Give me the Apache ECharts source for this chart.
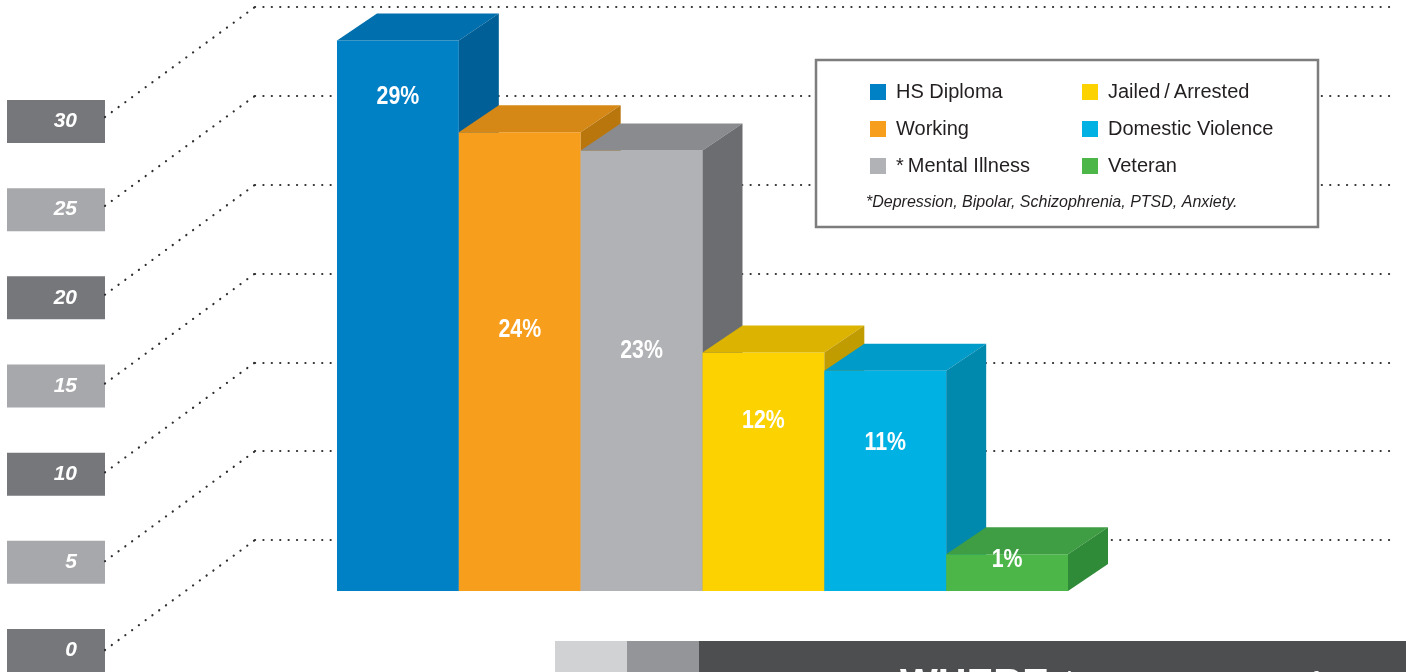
<!DOCTYPE html>
<html><head><meta charset="utf-8">
<script src="https://cdn.jsdelivr.net/npm/echarts@6/dist/echarts.min.js"></script>
<style>html,body{margin:0;padding:0;background:#fff}#c{width:1406px;height:672px}</style>
</head><body><div id="c"></div>
<script>
// ---- data ----
const categories = ['HS Diploma', 'Working', '*\u2009Mental Illness', 'Jailed\u2009/\u2009Arrested', 'Domestic Violence', 'Veteran'];
const values = [29, 24, 23, 12, 11, 1];
const valueLabels = ['29%', '24%', '23%', '12%', '11%', '1%'];
const tickValues = [0, 5, 10, 15, 20, 25, 30];
const footnote = '*Depression, Bipolar, Schizophrenia, PTSD, Anxiety.';
const bannerBold = 'WHERE';
const bannerText = 'do our guests come from?';

// ---- styles ----
const FRONT = ['#0081c6', '#f89e1d', '#b1b2b5', '#fcd200', '#00b2e3', '#4cb748'];
const TOPC  = ['#006fad', '#d68816', '#8a8b8f', '#dbb300', '#009bc9', '#3f9e43'];
const SIDE  = ['#005f96', '#b8760c', '#6c6d71', '#c19c00', '#0088ad', '#2f8b38'];
const LABEL_DROP = [56, 198, 200, 68, 72, 6];
const DX = 40, DY = -27;
const DOT = { color: '#2e2e2e', width: 2.2, type: [0.1, 8.3], cap: 'round' };
const SANS = "'Liberation Sans', Arial, sans-serif";

function barRenderer(i) {
  return function (params, api) {
    const cs = params.coordSys;
    const p = api.coord([api.value(0), api.value(1)]);
    const w = api.size([1, 0])[0];
    const x0 = p[0] - w / 2, x1 = p[0] + w / 2, top = p[1], bot = cs.y + cs.height;
    return {
      type: 'group',
      children: [
        { type: 'rect', shape: { x: x0, y: top, width: w, height: bot - top }, style: { fill: FRONT[i] } },
        { type: 'polygon', shape: { points: [[x0, top], [x0 + DX, top + DY], [x1 + DX, top + DY], [x1, top]] }, style: { fill: TOPC[i] } },
        { type: 'polygon', shape: { points: [[x1, top], [x1 + DX, top + DY], [x1 + DX, bot + DY], [x1, bot]] }, style: { fill: SIDE[i] } },
        { type: 'text', x: p[0], y: top + LABEL_DROP[i], scaleX: 0.82,
          style: { text: valueLabels[i], fill: '#fff', font: 'bold 26px ' + SANS, align: 'center', verticalAlign: 'middle' } }
      ]
    };
  };
}

const barSeries = categories.map((name, i) => ({
  type: 'custom', name: name, xAxisIndex: 2, yAxisIndex: 2, clip: false,
  itemStyle: { color: FRONT[i] },
  renderItem: barRenderer(i),
  data: [[i, values[i]]]
}));

const connectorSeries = {
  type: 'custom', xAxisIndex: 1, yAxisIndex: 1, clip: false, silent: true,
  renderItem: function (params, api) {
    const p = api.coord([0, api.value(1)]);
    return { type: 'polyline', shape: { points: [[105, p[1] + 110], [p[0], p[1]]] },
      style: { stroke: DOT.color, lineWidth: DOT.width, lineDash: DOT.type, lineCap: 'round', fill: null } };
  },
  data: tickValues.map(v => [0, v])
};

const labelRich = (bg) => ({ backgroundColor: bg, width: 70, height: 43, lineHeight: 43, padding: [0, 28, 0, 0], align: 'right',
  color: '#fff', fontSize: 21, fontWeight: 'bold', fontStyle: 'italic', fontFamily: SANS });

const legendBase = { orient: 'vertical', top: 82, padding: 0, itemWidth: 16, itemHeight: 16, itemGap: 17, icon: 'rect',
  selectedMode: false, z: 6, textStyle: { fontSize: 20, color: '#231f20', fontFamily: SANS, padding: [0, 0, 0, 5] } };

const option = {
  animation: false,
  backgroundColor: '#fff',
  grid: [
    { left: 105, width: 1, top: 121.5, bottom: 21.5 },
    { left: 255, right: 11, top: 7, bottom: 132 },
    { left: 337, right: 338, top: 22.1, bottom: 81 }
  ],
  xAxis: [
    { gridIndex: 0, type: 'value', show: false },
    { gridIndex: 1, type: 'value', min: 0, max: 1, show: false },
    { gridIndex: 2, type: 'category', data: categories, show: false }
  ],
  yAxis: [
    { gridIndex: 0, type: 'value', min: 0, max: 30, interval: 5,
      axisLine: { show: false }, axisTick: { show: false }, splitLine: { show: false },
      axisLabel: { margin: 0, formatter: v => '{' + (v % 10 === 0 ? 'd' : 'l') + '|' + v + '}',
        rich: { d: labelRich('#76777b'), l: labelRich('#a7a8ab') } } },
    { gridIndex: 1, type: 'value', min: 0, max: 30, interval: 5,
      axisLine: { show: false }, axisTick: { show: false }, axisLabel: { show: false },
      splitLine: { show: true, lineStyle: DOT } },
    { gridIndex: 2, type: 'value', min: -1, max: 30, show: false }
  ],
  legend: [
    Object.assign({}, legendBase, { left: 870, data: categories.slice(0, 3) }),
    Object.assign({}, legendBase, { left: 1082, data: categories.slice(3) })
  ],
  graphic: [
    { type: 'rect', z: 5, shape: { x: 816, y: 60, width: 502, height: 167 }, style: { fill: '#fff', stroke: '#7d7d7d', lineWidth: 2.5 } },
    { type: 'text', z: 6, x: 866, y: 203, style: { text: footnote, font: 'italic 16px ' + SANS, fill: '#231f20', verticalAlign: 'middle' } },
    { type: 'rect', z: 5, shape: { x: 555, y: 641, width: 72, height: 31 }, style: { fill: '#d1d2d4' } },
    { type: 'rect', z: 5, shape: { x: 627, y: 641, width: 72, height: 31 }, style: { fill: '#939598' } },
    { type: 'rect', z: 5, shape: { x: 699, y: 641, width: 707, height: 31 }, style: { fill: '#4d4e50' } },
    { type: 'text', z: 6, x: 900, y: 686, style: { text: bannerBold, font: 'bold 40px ' + SANS, fill: '#fff', verticalAlign: 'middle' } },
    { type: 'text', z: 6, x: 1057, y: 683, style: { text: bannerText, font: '28px ' + SANS, fill: '#fff', verticalAlign: 'middle' } }
  ],
  series: [connectorSeries].concat(barSeries)
};

const chart = echarts.init(document.getElementById('c'));
chart.setOption(option);
</script>
</body></html>
